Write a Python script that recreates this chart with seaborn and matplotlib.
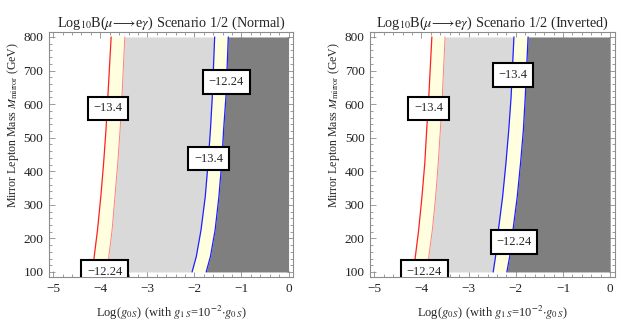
import matplotlib
matplotlib.use("Agg")
import matplotlib.pyplot as plt
from matplotlib.ticker import MultipleLocator
import numpy as np
import pandas as pd
import seaborn as sns

# mirror lepton mass grid (GeV) where the contour positions were read
mass = [100, 146, 225, 324, 424, 523, 622, 800]

# Normal ordering: Log(g0S) positions of the band edges
normal_red_lo = [-4.17, -4.13, -4.06, -3.99, -3.93, -3.88, -3.84, -3.77]
normal_red_hi = [-3.86, -3.82, -3.75, -3.69, -3.63, -3.58, -3.54, -3.48]
normal_blue_lo = [-2.05, -1.96, -1.86, -1.77, -1.71, -1.66, -1.62, -1.57]
normal_blue_hi = [-1.75, -1.66, -1.56, -1.48, -1.42, -1.38, -1.33, -1.28]

# Inverted ordering
inverted_red_lo = [-4.17, -4.13, -4.06, -3.99, -3.93, -3.89, -3.845, -3.78]
inverted_red_hi = [-3.89, -3.845, -3.77, -3.70, -3.645, -3.60, -3.56, -3.50]
inverted_blue_lo = [-2.48, -2.43, -2.37, -2.28, -2.21, -2.15, -2.10, -2.04]
inverted_blue_hi = [-2.19, -2.13, -2.06, -1.97, -1.90, -1.84, -1.80, -1.74]

# contour labels: (text, x, y)
normal_labels = [("\u221213.4", -3.83, 588), ("\u221212.24", -1.32, 666),
                 ("\u221213.4", -1.70, 437), ("\u221212.24", -3.91, 100)]
inverted_labels = [("\u221213.4", -3.85, 588), ("\u221213.4", -2.06, 687),
                   ("\u221212.24", -2.04, 189), ("\u221212.24", -3.94, 100)]

sns.set_style("ticks")
plt.rcParams["font.family"] = ["Liberation Serif", "DejaVu Serif"]
plt.rcParams["mathtext.fontset"] = "stix"

YELLOW = "#FFFFE0"
LIGHT = "#D9D9D9"
DARK = "#7F7F7F"
FRAME = "#8C8C8C"


def draw_panel(ax, red_lo, red_hi, blue_lo, blue_hi, labels, title):
    y = np.array(mass, dtype=float)
    ax.fill_betweenx(y, red_lo, red_hi, color=YELLOW, lw=0)
    ax.fill_betweenx(y, red_hi, blue_lo, color=LIGHT, lw=0)
    ax.fill_betweenx(y, blue_lo, blue_hi, color=YELLOW, lw=0)
    ax.fill_betweenx(y, blue_hi, 0, color=DARK, lw=0)

    df = pd.DataFrame({"mass": mass, "red_lo": red_lo, "red_hi": red_hi,
                       "blue_lo": blue_lo, "blue_hi": blue_hi})
    sns.lineplot(data=df, x="red_lo", y="mass", orient="y", sort=False,
                 color="#FF2020", lw=0.9, ax=ax)
    sns.lineplot(data=df, x="red_hi", y="mass", orient="y", sort=False,
                 color="#FF8080", lw=0.7, ax=ax)
    sns.lineplot(data=df, x="blue_lo", y="mass", orient="y", sort=False,
                 color="#2020FF", lw=0.9, ax=ax)
    sns.lineplot(data=df, x="blue_hi", y="mass", orient="y", sort=False,
                 color="#2020FF", lw=0.9, ax=ax)

    for txt, lx, ly in labels:
        ax.text(lx, ly, txt, fontsize=9, ha="center", va="center", clip_on=True,
                zorder=5,
                bbox=dict(boxstyle="square,pad=0.45", fc="white", ec="black", lw=1.5))

    ax.set_xlim(-5.09, 0.1)
    ax.set_ylim(85, 815)
    ax.set_xticks([-5, -4, -3, -2, -1, 0])
    ax.set_xticklabels(["\u22125", "\u22124", "\u22123", "\u22122", "\u22121", "0"])
    ax.set_yticks(range(100, 801, 100))
    ax.xaxis.set_minor_locator(MultipleLocator(0.2))
    ax.yaxis.set_minor_locator(MultipleLocator(20))
    ax.tick_params(which="both", direction="in", top=True, right=True,
                   color=FRAME, labelsize=9.5, labelcolor="#222222", width=0.6)
    ax.tick_params(which="major", length=4, pad=4)
    ax.tick_params(which="minor", length=2)
    for s in ax.spines.values():
        s.set_visible(True)
        s.set_color(FRAME)
        s.set_linewidth(0.8)

    ax.set_title(title, fontsize=10.3, pad=3)
    ax.set_xlabel(r"Log($g_{0\,S}$) (with $g_{1\,S}$=10$^{-2}$$\cdot$$g_{0\,S}$)",
                  fontsize=9, labelpad=7)
    ax.set_ylabel(r"Mirror Lepton Mass $\mathbf{\mathit{M}}_{\rm mirror}$ (GeV)",
                  fontsize=8.6)
    ax.yaxis.set_label_coords(-0.115, 0.62)


fig = plt.figure(figsize=(6.23, 3.29), dpi=100)
ax1 = fig.add_axes([0.0787, 0.158, 0.392, 0.745])
ax2 = fig.add_axes([0.594, 0.158, 0.393, 0.745])

draw_panel(ax1, normal_red_lo, normal_red_hi, normal_blue_lo, normal_blue_hi,
           normal_labels,
           r"Log$_{10}$B($\mu\!\longrightarrow\!$e$\gamma$) Scenario 1/2 (Normal)")
draw_panel(ax2, inverted_red_lo, inverted_red_hi, inverted_blue_lo, inverted_blue_hi,
           inverted_labels,
           r"Log$_{10}$B($\mu\!\longrightarrow\!$e$\gamma$) Scenario 1/2 (Inverted)")

fig.savefig("out.png", dpi=100)
